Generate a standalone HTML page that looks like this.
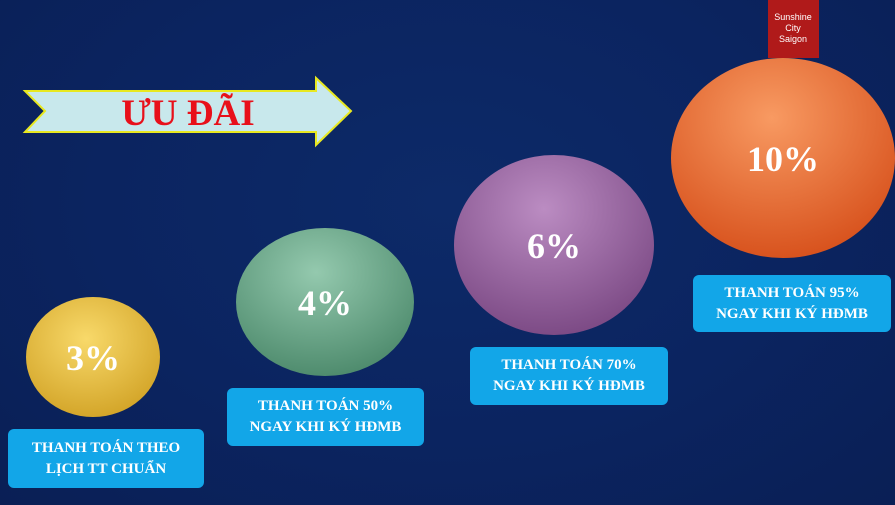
<!DOCTYPE html>
<html><head><meta charset="utf-8"><style>
html,body{margin:0;padding:0}
body{width:895px;height:505px;overflow:hidden;position:relative;font-family:"Liberation Serif",serif;
background:radial-gradient(ellipse at 50% 40%,#0d2a68 0%,#0b2460 55%,#0a1f55 100%);}
.box{position:absolute;background:#12a6e8;border-radius:6px;color:#fff;font-weight:bold;font-size:15px;line-height:21px;text-align:center;display:flex;align-items:center;justify-content:center;}
</style></head><body>
<svg width="895" height="505" style="position:absolute;left:0;top:0">
<defs>
<radialGradient id="g1" cx="45%" cy="35%" r="65%"><stop offset="0" stop-color="#f8d96a"/><stop offset="1" stop-color="#d4a62a"/></radialGradient>
<radialGradient id="g2" cx="45%" cy="30%" r="70%"><stop offset="0" stop-color="#94c9ae"/><stop offset="1" stop-color="#4f8c6e"/></radialGradient>
<radialGradient id="g3" cx="45%" cy="30%" r="70%"><stop offset="0" stop-color="#bb8cc2"/><stop offset="1" stop-color="#7d4b86"/></radialGradient>
<radialGradient id="g4" cx="45%" cy="30%" r="70%"><stop offset="0" stop-color="#f89a62"/><stop offset="1" stop-color="#d8531e"/></radialGradient>
</defs>
<polygon points="25,91 316,91 316,78 351,111 316,145 316,132 25,132 45,111" fill="#c8e8ec" stroke="#e8e820" stroke-width="2"/>
<text x="188" y="125" text-anchor="middle" font-family="Liberation Serif" font-weight="bold" font-size="37" fill="#e8101a">ƯU ĐÃI</text>
<rect x="768" y="0" width="51" height="58" fill="#b01a1a"/>
<text x="793" y="20" text-anchor="middle" font-family="Liberation Sans" font-size="9" fill="#fff">Sunshine</text>
<text x="793" y="31" text-anchor="middle" font-family="Liberation Sans" font-size="9" fill="#fff">City</text>
<text x="793" y="42" text-anchor="middle" font-family="Liberation Sans" font-size="9" fill="#fff">Saigon</text>
<g id="circles"></g>
</svg>
<div id="boxes"></div>
<script>
const pcts=["3%","4%","6%","10%"];
const labels=[["THANH TOÁN THEO","LỊCH TT CHUẨN"],["THANH TOÁN 50%","NGAY KHI KÝ HĐMB"],["THANH TOÁN 70%","NGAY KHI KÝ HĐMB"],["THANH TOÁN 95%","NGAY KHI KÝ HĐMB"]];
const geo=[[93,357,67,60],[325,302,89,74],[554,245,100,90],[783,158,112,100]];
const boxes=[[8,429,196,59],[227,388,197,58],[470,347,198,58],[693,275,198,57]];
const ns="http://www.w3.org/2000/svg";
const g=document.getElementById('circles');
pcts.forEach((p,i)=>{
 const [cx,cy,rx,ry]=geo[i];
 const e=document.createElementNS(ns,'ellipse');
 
 
 e.setAttribute('cx',cx);e.setAttribute('cy',cy);e.setAttribute('rx',rx);e.setAttribute('ry',ry);
 e.setAttribute('fill','url(#g'+(i+1)+')');
 g.appendChild(e);
 const t=document.createElementNS(ns,'text');
 
 
 t.setAttribute('x',cx);t.setAttribute('y',cy+13);t.setAttribute('text-anchor','middle');
 t.setAttribute('font-family','Liberation Serif');t.setAttribute('font-weight','bold');t.setAttribute('font-size','36');t.setAttribute('fill','#fff');
 t.textContent=p;g.appendChild(t);
 const d=document.createElement('div');
 d.className='box';
 
 
 const [x,y,w,h]=boxes[i];
 d.style.left=x+'px';d.style.top=y+'px';d.style.width=w+'px';d.style.height=h+'px';
 d.innerHTML=labels[i][0]+'<br>'+labels[i][1];
 document.getElementById('boxes').appendChild(d);
});
</script>
</body></html>
